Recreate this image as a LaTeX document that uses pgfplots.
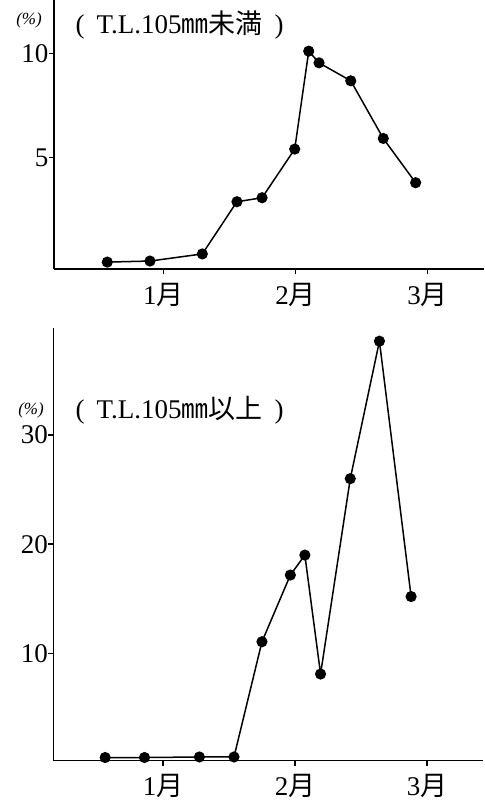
\documentclass[border=0pt]{standalone}
\usepackage{fontspec}
\setmainfont{Liberation Serif}
\newfontfamily\cjk{Noto Sans CJK JP}
\usepackage{pgfplots}
\pgfplotsset{compat=1.18}
\begin{document}
\begin{tikzpicture}
\useasboundingbox (0,0) rectangle (484pt,802pt);
\pgfplotsset{
  myax/.style={
    scale only axis,
    anchor=south west,
    width=430pt,
    axis x line=bottom, axis y line=left,
    axis line style={-, line width=1.6pt},
    tick align=outside,
    major tick length=5pt,
    every tick/.style={line width=1.4pt, black},
    xtick={1,2,3},
    xticklabels={{1{\cjk 月}},{2{\cjk 月}},{3{\cjk 月}}},
    xmin=0.173, xmax=3.426,
    clip=false,
    /pgf/number format/assume math mode=true,
    tick label style={font=\fontsize{27}{30}\selectfont},
    xticklabel style={yshift=-5pt},
    yticklabel style={xshift=3pt},
  },
  myline/.style={black, line width=1.5pt, mark=*, mark size=4.8pt, mark options={fill=black}},
}
% top panel
\begin{axis}[myax, at={(54pt,532.7pt)}, height=269.3pt,
  ymin=-0.345, ymax=12.55, ytick={5,10}]
\addplot[myline] coordinates {
(0.576,0.0) (0.899,0.05) (1.295,0.39) (1.557,2.89) (1.747,3.08) (1.994,5.41)
(2.100,10.1) (2.178,9.54) (2.418,8.68) (2.664,5.92) (2.909,3.8)};
\end{axis}
% bottom panel
\begin{axis}[myax, at={(53.3pt,41.3pt)}, height=432.4pt, xmin=0.168,
  ymin=0.16, ymax=39.78, ytick={10,20,30}]
\addplot[myline] coordinates {
(0.561,0.45) (0.859,0.45) (1.275,0.5) (1.537,0.5) (1.749,11.06) (1.964,17.17)
(2.074,19.0) (2.193,8.1) (2.418,26.0) (2.639,38.6) (2.879,15.2)};
\end{axis}
% labels
\node[font=\fontsize{17}{19}\selectfont\itshape] at (29pt,782pt) {(\%)};
\node[font=\fontsize{27}{30}\selectfont, anchor=west] at (72pt,777pt) {(\;\,T.L.105{\cjk ㎜未満}\;\,)};
\node[font=\fontsize{17}{19}\selectfont\itshape] at (31pt,392pt) {(\%)};
\node[font=\fontsize{27}{30}\selectfont, anchor=west] at (72pt,392pt) {(\;\,T.L.105{\cjk ㎜以上}\;\,)};
\end{tikzpicture}
\end{document}
